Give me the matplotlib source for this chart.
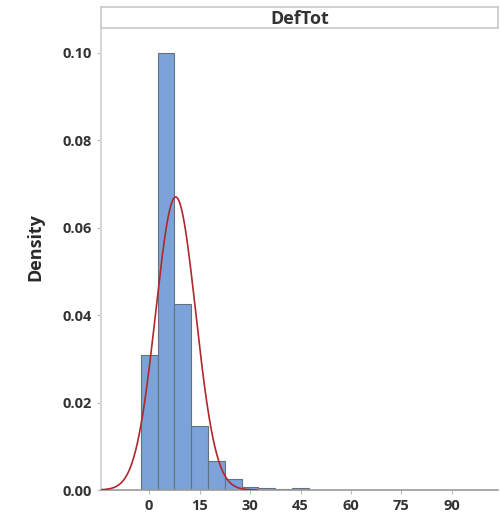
import numpy as np
import matplotlib
matplotlib.use("Agg")
import matplotlib.pyplot as plt

plt.rcParams['font.family'] = ['Open Sans', 'DejaVu Sans']

# histogram of DefTot, bins of width 5 centred on multiples of 5
bin_centers = [0, 5, 10, 15, 20, 25, 30, 35, 40, 45]
densities = [0.0309, 0.1000, 0.0426, 0.0146, 0.0066, 0.0025, 0.0007, 0.0005, 0.0002, 0.0005]
bin_width = 5

# fitted normal
fit_mean = 7.9
fit_sd = 5.95

xticks = [0, 15, 30, 45, 60, 75, 90]
yticks = [0.00, 0.02, 0.04, 0.06, 0.08, 0.10]

fig = plt.figure(figsize=(5, 5.22), dpi=100)
ax = fig.add_axes([0.202, 0.0613, 0.794, 0.8851])

ax.bar(bin_centers, densities, width=bin_width, color='#7ba3d9',
       edgecolor='#66707e', linewidth=0.8, zorder=2)

xs = np.linspace(-14, 32, 400)
ys = np.exp(-0.5 * ((xs - fit_mean) / fit_sd) ** 2) / (fit_sd * np.sqrt(2 * np.pi))
ax.plot(xs, ys, color='#b0282c', linewidth=1.2, zorder=3)

ax.set_xlim(-14.3, 103.7)
ax.set_ylim(0, 0.1057)
ax.set_xticks(xticks)
ax.set_yticks(yticks)
ax.set_yticklabels(['%.2f' % v for v in yticks])

for s in ['top', 'right']:
    ax.spines[s].set_visible(False)
ax.spines['left'].set_color('#d8d8d8')
ax.spines['left'].set_linewidth(1.5)
ax.spines['bottom'].set_color('#9a9a9a')
ax.spines['bottom'].set_linewidth(1.2)

ax.tick_params(axis='both', colors='#bbbbbb', labelcolor='#333333',
               labelsize=10.5, length=3, width=0.8)
for lbl in ax.get_xticklabels() + ax.get_yticklabels():
    lbl.set_fontweight('bold')

ax.set_ylabel('Density', fontsize=13, fontweight='bold', color='#2a2a2a')
ax.yaxis.set_label_coords(-0.143, 0.525)

# panel header strip
hdr = fig.add_axes([0.202, 1 - 28 / 522, 0.794, 21 / 522])
hdr.set_xticks([])
hdr.set_yticks([])
for s in hdr.spines.values():
    s.set_color('#c8c8c8')
    s.set_linewidth(1.2)
hdr.text(0.5, 0.45, 'DefTot', ha='center', va='center', fontsize=13,
         fontweight='bold', color='#333333', transform=hdr.transAxes)

fig.savefig('out.png', dpi=100)
